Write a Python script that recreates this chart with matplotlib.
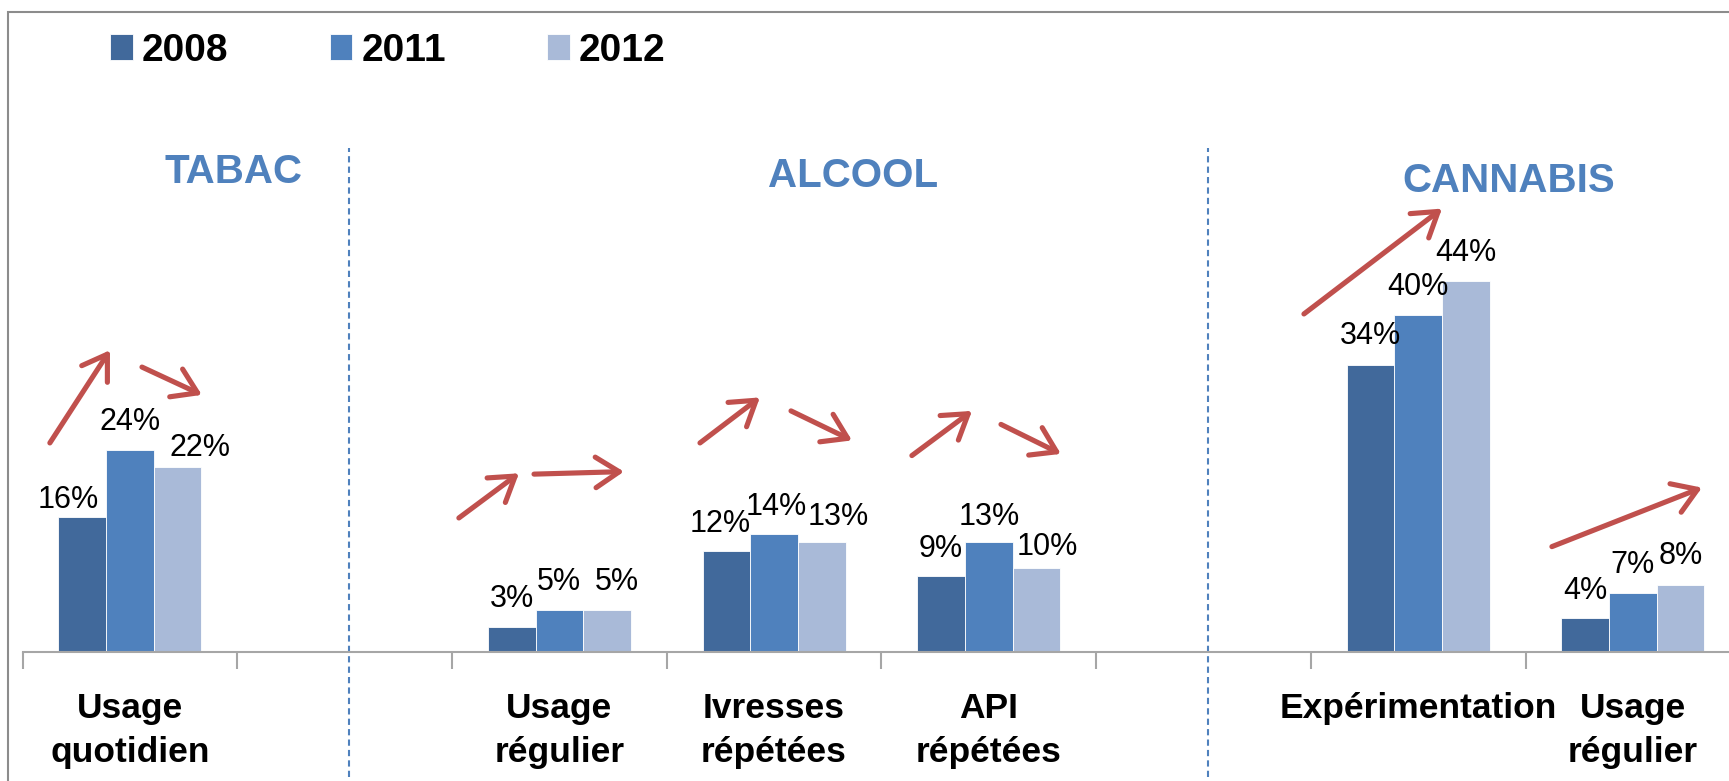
import numpy as np
import matplotlib
matplotlib.use("Agg")
import matplotlib.pyplot as plt
from matplotlib.patches import Rectangle

plt.rcParams['font.family'] = ['Liberation Sans', 'DejaVu Sans']

categories = ["Usage\nquotidien", "", "Usage\nrégulier", "Ivresses\nrépétées",
              "API\nrépétées", "", "Expérimentation", "Usage\nrégulier"]
years = ["2008", "2011", "2012"]
v2008 = [16, np.nan, 3, 12, 9, np.nan, 34, 4]
v2011 = [24, np.nan, 5, 14, 13, np.nan, 40, 7]
v2012 = [22, np.nan, 5, 13, 10, np.nan, 44, 8]
series = [v2008, v2011, v2012]

sections = ["TABAC", "ALCOOL", "CANNABIS"]
section_x = [0.48, 3.37, 6.42]
section_y = [55.6, 55.2, 54.6]
dividers = [1.02, 5.02]

# trend arrows (tail x, tail y, head x, head y)
arrows = [(-0.373, 24.8, -0.093, 35.8), (0.056, 33.8, 0.335, 30.5),
          (1.532, 15.9, 1.812, 21.2), (1.882, 21.1, 2.301, 21.4),
          (2.655, 24.8, 2.934, 30.2), (3.079, 28.6, 3.363, 25.1),
          (3.642, 23.3, 3.922, 28.6), (4.057, 27.0, 4.336, 23.5),
          (5.468, 40.1, 6.111, 52.6), (6.623, 12.5, 7.322, 19.5)]

colors = ['#41699B', '#4F81BD', '#A9BAD8']
blue = '#4F81BD'
red = '#C0504D'

# label nudges in pixels (dx, dy above bar top)
nudge = [
    [(-14, 9), None, (0, 20), (-6, 19), (0, 19), None, (0, 21), (0, 19)],
    [(0, 20), None, (0, 20), (2, 19), (0, 17), None, (0, 20), (0, 20)],
    [(22, 11), None, (10, 20), (17, 17), (11, 13), None, (0, 20), (0, 21)],
]

fig = plt.figure(figsize=(17.29, 7.81), dpi=100)
ax = fig.add_axes([0.01307, 0.16517, 0.99341, 0.80954])

x = np.arange(len(categories))
w = 0.222
for i, vals in enumerate(series):
    ax.bar(x + (i - 1) * w, vals, w, color=colors[i], edgecolor='white',
           linewidth=0.6, label=years[i])
    for j, v in enumerate(vals):
        if np.isnan(v):
            continue
        dx, dy = nudge[i][j]
        ax.annotate(f"{v:.0f}%", (x[j] + (i - 1) * w, v), xytext=(dx * 0.72, dy * 0.72),
                    textcoords='offset points', ha='center', va='baseline',
                    fontsize=22, color='black')

for (x0, y0, x1, y1) in arrows:
    ax.annotate("", xy=(x1, y1), xytext=(x0, y0),
                arrowprops=dict(arrowstyle='->,head_length=0.85,head_width=0.55',
                                color=red, lw=3.7, shrinkA=0, shrinkB=0,
                                mutation_scale=20))

for name, sx, sy in zip(sections, section_x, section_y):
    ax.text(sx, sy, name, ha='center', va='baseline', fontsize=29,
            fontweight='bold', color=blue)

for d in dividers:
    ax.plot([d, d], [-14.8, 59.8], color=blue, lw=1.5, ls=(0, (3, 2)), clip_on=False)

ax.set_xlim(-0.5, len(categories) - 0.5)
ax.set_ylim(0, 75)
ax.set_xticks(np.arange(len(categories) + 1) - 0.5)
ax.set_xticklabels([])
ax.set_xticks(x, minor=True)
ax.set_xticklabels(categories, minor=True, fontsize=25.5, fontweight='bold',
                   linespacing=1.4)
ax.tick_params(axis='x', which='major', length=12, width=1.5, color='#A6A6A6', direction='out')
ax.tick_params(axis='x', which='minor', length=0, pad=29)
ax.set_yticks([])
for s in ['left', 'top', 'right']:
    ax.spines[s].set_visible(False)
ax.spines['bottom'].set_color('#A6A6A6')
ax.spines['bottom'].set_linewidth(1.5)

fig.legend(loc='center left', bbox_to_anchor=(110 / 1729, 1 - 51 / 781), ncol=3,
           frameon=False, borderpad=0, borderaxespad=0, handlelength=0.59,
           handleheight=0.64, handletextpad=0.23, columnspacing=2.6,
           prop=dict(weight='bold', size=28))

fig.add_artist(Rectangle((7.5 / 1729, -0.1), 1.0, 1.1 - 12 / 781, transform=fig.transFigure,
                         fill=False, edgecolor='#8C8C8C', lw=1.5))

fig.savefig("out.png", dpi=100)
